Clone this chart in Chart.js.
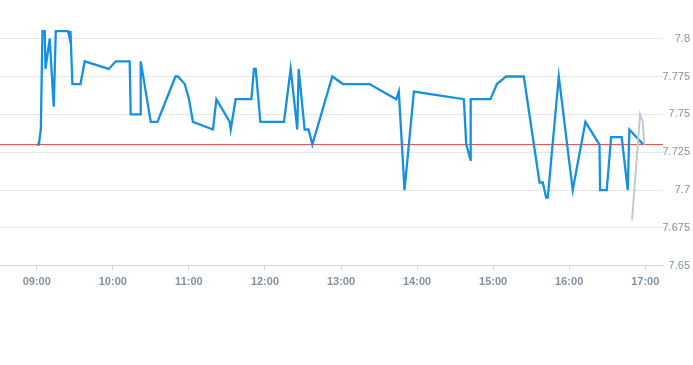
<!DOCTYPE html>
<html>
<head>
<meta charset="utf-8">
<script src="https://cdn.jsdelivr.net/npm/chart.js@4"></script>
<style>
  html, body { margin: 0; padding: 0; background: #fff; }
  #wrap { width: 693px; height: 365px; position: relative; }
</style>
</head>
<body>
<div id="wrap"><canvas id="priceChart"></canvas></div>
<script>
// intraday quotes
var times = ['09:00:00', '09:01:36', '09:03:12', '09:04:30', '09:06:18', '09:06:54', '09:10:12', '09:13:24',
    '09:15:00', '09:24:42', '09:26:00', '09:26:36', '09:28:06', '09:34:30', '09:37:48', '09:56:48',
    '10:02:18', '10:13:18', '10:14:06', '10:21:48', '10:22:00', '10:29:54', '10:35:12', '10:49:24',
    '10:51:24', '10:56:42', '11:00:06', '11:03:12', '11:19:00', '11:21:42', '11:32:12', '11:33:00',
    '11:36:54', '11:49:18', '11:51:18', '11:52:42', '11:56:24', '12:15:00', '12:20:18', '12:25:30',
    '12:26:36', '12:31:18', '12:34:24', '12:37:24', '12:53:06', '13:01:30', '13:22:30', '13:43:36',
    '13:45:36', '13:50:06', '13:57:30', '14:36:54', '14:38:48', '14:42:12', '14:42:18', '14:57:54',
    '15:03:00', '15:10:18', '15:24:12', '15:36:36', '15:39:12', '15:41:48', '15:43:06', '15:51:48',
    '16:02:48', '16:12:48', '16:23:54', '16:24:24', '16:29:36', '16:33:06', '16:41:24', '16:46:12',
    '16:47:30', '16:58:30'];
var prices = [7.73, 7.73, 7.74, 7.805, 7.805, 7.78, 7.80, 7.755,
    7.805, 7.805, 7.80, 7.805, 7.77, 7.77, 7.785, 7.78,
    7.785, 7.785, 7.75, 7.75, 7.785, 7.745, 7.745, 7.775,
    7.775, 7.77, 7.76, 7.745, 7.74, 7.76, 7.745, 7.74,
    7.76, 7.76, 7.78, 7.78, 7.745, 7.745, 7.78, 7.74,
    7.78, 7.74, 7.74, 7.73, 7.775, 7.77, 7.77, 7.76,
    7.765, 7.70, 7.765, 7.76, 7.73, 7.72, 7.76, 7.76,
    7.77, 7.775, 7.775, 7.705, 7.705, 7.695, 7.695, 7.775,
    7.70, 7.745, 7.73, 7.70, 7.70, 7.735, 7.735, 7.70,
    7.74, 7.73];

// grey after-hours trace
var lateTimes = ['16:49:36', '16:55:54', '16:58:00', '16:59:18'];
var latePrices = [7.68, 7.75, 7.745, 7.73];

var prevClose = 7.73;
var hourTicks = ['09:00', '10:00', '11:00', '12:00', '13:00', '14:00', '15:00', '16:00', '17:00'];
var priceTicks = [7.65, 7.675, 7.7, 7.725, 7.75, 7.775, 7.8];

// minutes after 09:00
function toMin(s) {
    var p = s.split(':');
    return (+p[0] - 9) * 60 + (+p[1]) + (p[2] ? +p[2] / 60 : 0);
}
function pad(n) { return (n < 10 ? '0' : '') + n; }
function minLabel(m) {
    var h = 9 + Math.floor(m / 60);
    return pad(h) + ':' + pad(Math.round(m % 60));
}
function pts(ts, vs) {
    return ts.map(function(t, i) { return { x: toMin(t), y: vs[i] }; });
}

var xMin = -29, xMax = 494;
var labelFont = { family: 'Liberation Sans, Arial, sans-serif', size: 11 };

window.onload = function() {
    var ctx = document.getElementById('priceChart').getContext('2d');
    new Chart(ctx, {
        type: 'line',
        data: {
            datasets: [{
                data: pts(times, prices),
                borderColor: '#1591df',
                borderWidth: 2.3,
                pointRadius: 0,
                tension: 0,
                order: 1
            }, {
                data: pts(lateTimes, latePrices),
                borderColor: '#c3cad2',
                borderWidth: 2,
                pointRadius: 0,
                tension: 0,
                order: 0
            }, {
                data: [{ x: xMin, y: prevClose }, { x: xMax, y: prevClose }],
                borderColor: '#d8463c',
                borderWidth: 1,
                pointRadius: 0,
                order: 3
            }]
        },
        options: {
            responsive: true,
            maintainAspectRatio: false,
            animation: false,
            layout: { padding: { top: 0, bottom: 71, left: 0, right: 3 } },
            plugins: {
                legend: { display: false },
                tooltip: { enabled: false }
            },
            scales: {
                x: {
                    type: 'linear',
                    min: xMin,
                    max: xMax,
                    afterBuildTicks: function(scale) {
                        scale.ticks = hourTicks.map(function(h) { return { value: toMin(h) }; });
                    },
                    grid: {
                        drawOnChartArea: false,
                        drawTicks: true,
                        tickLength: 5,
                        color: '#d5d9de'
                    },
                    border: { color: '#d0d4d9' },
                    ticks: {
                        color: '#8390a0',
                        font: { family: labelFont.family, size: 11, weight: 'bold' },
                        padding: 5,
                        maxRotation: 0,
                        callback: function(v) { return minLabel(v); }
                    }
                },
                y: {
                    position: 'right',
                    min: 7.65,
                    max: 7.8185,
                    afterBuildTicks: function(scale) {
                        scale.ticks = priceTicks.map(function(v) { return { value: v }; });
                    },
                    afterFit: function(scale) { scale.width = 27; },
                    grid: {
                        color: '#e4e6e9',
                        drawTicks: false
                    },
                    border: { display: false },
                    ticks: {
                        color: '#8a929b',
                        font: labelFont,
                        padding: 4,
                        crossAlign: 'far',
                        callback: function(v) { return String(+v.toFixed(3)); }
                    }
                }
            }
        }
    });
};
</script>
</body>
</html>
